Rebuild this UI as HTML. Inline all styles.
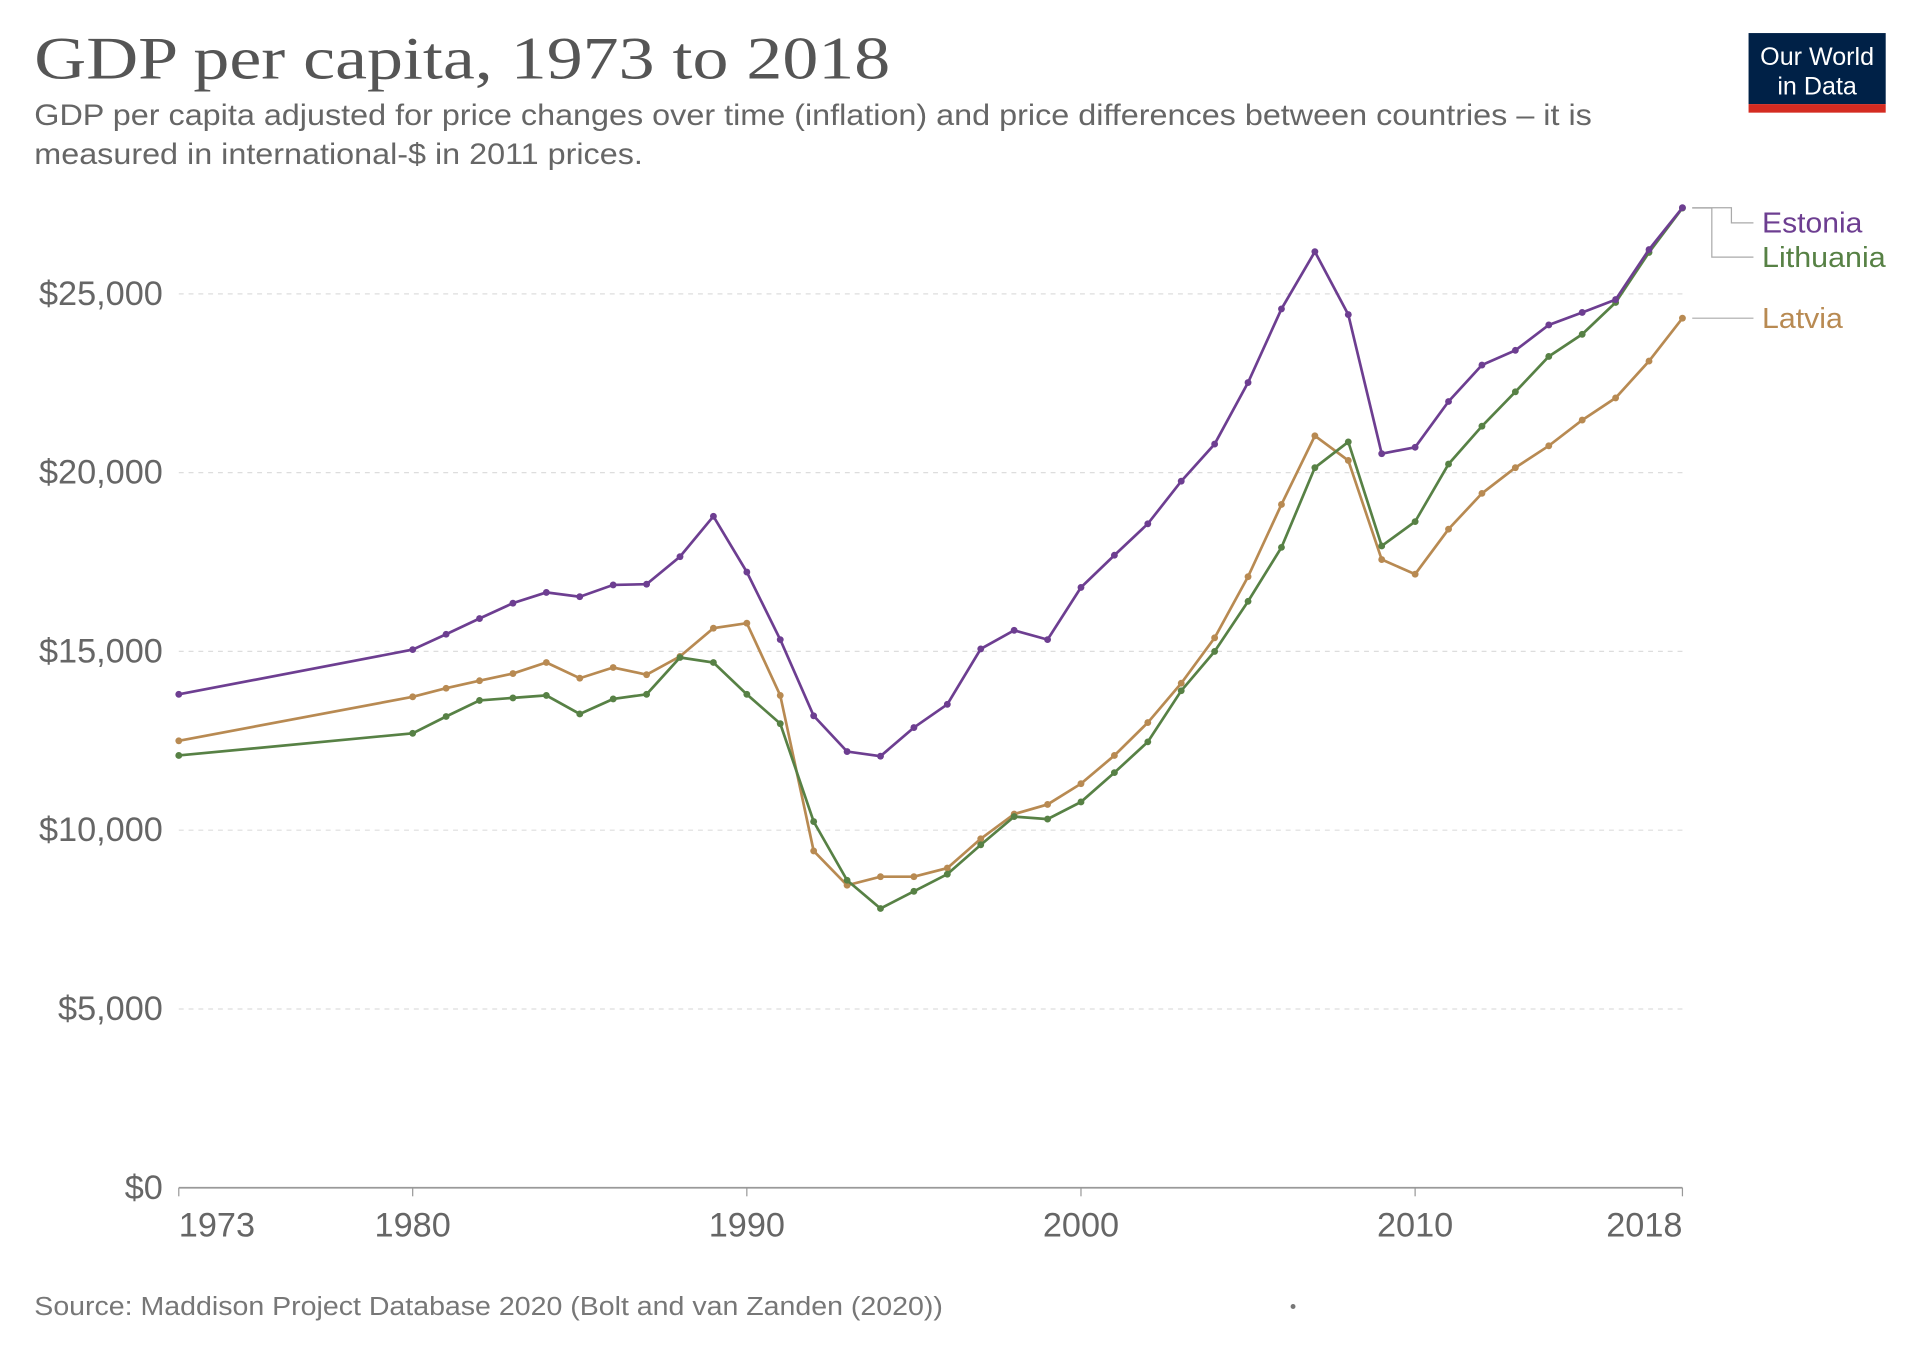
<!DOCTYPE html>
<html><head><meta charset="utf-8"><style>
html,body{margin:0;padding:0;background:#fff;}
svg{display:block;}
text{font-family:"Liberation Sans",sans-serif;}
</style></head><body>
<svg id="chart" width="1920" height="1355" viewBox="0 0 1568 1106.6" xmlns="http://www.w3.org/2000/svg">
<text x="28" y="64" style="font-family:'Liberation Serif',serif" font-size="49" fill="#555" textLength="699" lengthAdjust="spacingAndGlyphs">GDP per capita, 1973 to 2018</text>
<text x="28" y="102" font-size="24" fill="#666" textLength="1272" lengthAdjust="spacingAndGlyphs">GDP per capita adjusted for price changes over time (inflation) and price differences between countries – it is</text>
<text x="28" y="134" font-size="24" fill="#666" textLength="497" lengthAdjust="spacingAndGlyphs">measured in international-$ in 2011 prices.</text>
<g>
<rect x="1428" y="27" width="112" height="58" fill="#002147"/>
<rect x="1428" y="85" width="112" height="7" fill="#d42b21"/>
<text x="1484" y="53" font-size="20.5" fill="#fff" text-anchor="middle">Our World</text>
<text x="1484" y="77" font-size="20.5" fill="#fff" text-anchor="middle">in Data</text>
</g>
<g id="grid"></g><g id="axes"></g><g id="series"></g><g id="legend"></g>
<text x="28" y="1074" font-size="21" fill="#777" textLength="742" lengthAdjust="spacingAndGlyphs">Source: Maddison Project Database 2020 (Bolt and van Zanden (2020))</text>
<circle cx="1056" cy="1067" r="2" fill="#777"/>
</svg>
<script>
const years=[1973,1980,1981,1982,1983,1984,1985,1986,1987,1988,1989,1990,1991,1992,1993,1994,1995,1996,1997,1998,1999,2000,2001,2002,2003,2004,2005,2006,2007,2008,2009,2010,2011,2012,2013,2014,2015,2016,2017,2018];
const estonia=[13800,15050,15480,15920,16350,16650,16530,16860,16880,17650,18780,17220,15330,13200,12200,12070,12870,13520,15070,15590,15330,16790,17690,18570,19760,20800,22520,24580,26180,24420,20530,20710,21990,23010,23420,24130,24480,24840,26240,27410];
const lithuania=[12090,12710,13180,13630,13700,13770,13250,13670,13800,14830,14690,13800,12980,10240,8600,7810,8290,8770,9590,10380,10310,10790,11610,12470,13900,15000,16400,17910,20140,20860,17950,18630,20240,21300,22260,23250,23870,24760,26160,27400];
const latvia=[12500,13730,13970,14180,14380,14690,14250,14550,14350,14860,15650,15790,13770,9420,8460,8700,8700,8940,9760,10450,10720,11300,12090,13010,14110,15380,17090,19110,21030,20340,17570,17160,18420,19420,20140,20750,21470,22090,23120,24320];
const yTicks=[0,5000,10000,15000,20000,25000];
const yTickLabels=["$0","$5,000","$10,000","$15,000","$20,000","$25,000"];
const xTicks=[1973,1980,1990,2000,2010,2018];
const xTickLabels=["1973","1980","1990","2000","2010","2018"];
const seriesNames=["Estonia","Lithuania","Latvia"];

const NS="http://www.w3.org/2000/svg";
const X=y=>146+(y-1973)*(1374-146)/45;
const Y=v=>970-v*(730/25000);
function mk(tag,attrs,parent){const e=document.createElementNS(NS,tag);for(const k in attrs)e.setAttribute(k,attrs[k]);parent.appendChild(e);return e;}
const grid=document.getElementById('grid'),axes=document.getElementById('axes'),ser=document.getElementById('series'),leg=document.getElementById('legend');
yTicks.forEach((t,i)=>{
  if(t>0){const l=mk('line',{x1:146,x2:1374,y1:Y(t),y2:Y(t),stroke:'#ddd','stroke-dasharray':'4,4'},grid);
  
  }
  const tx=mk('text',{x:133,y:Y(t)+9,'font-size':28,fill:'#666','text-anchor':'end'},axes);tx.textContent=yTickLabels[i];
  
  
});
const ax=mk('line',{x1:146,x2:1374,y1:970,y2:970,stroke:'#999','stroke-width':1.5},axes);


xTicks.forEach((t,i)=>{
  mk('line',{x1:X(t),x2:X(t),y1:970,y2:977,stroke:'#999'},axes);
  const anchor=i===0?'start':(i===xTicks.length-1?'end':'middle');
  const tx=mk('text',{x:X(t),y:1010,'font-size':28,fill:'#666','text-anchor':anchor},axes);tx.textContent=xTickLabels[i];
  
  
});
const colors=["#6d3e91","#578145","#b88a52"];
const datas=[estonia,lithuania,latvia];
[2,1,0].forEach(si=>{
  const d=datas[si];
  const g=mk('g',{},ser);
  
  
  mk('polyline',{points:years.map((y,i)=>X(y)+','+Y(d[i])).join(' '),fill:'none',stroke:colors[si],'stroke-width':2.2},g);
  years.forEach((y,i)=>{const c=mk('circle',{cx:X(y),cy:Y(d[i]),r:2.8,fill:colors[si]},g);
    
    });
});
const last=years.length-1;
const ye=Y(estonia[last]),yl=Y(lithuania[last]),yv=Y(latvia[last]);
mk('polyline',{points:`1382,${ye} 1414,${ye} 1414,182 1432,182`,fill:'none',stroke:'#aaa'},leg);
mk('polyline',{points:`1382,${yl} 1398,${yl} 1398,210 1432,210`,fill:'none',stroke:'#aaa'},leg);
mk('line',{x1:1382,x2:1432,y1:yv,y2:yv,stroke:'#aaa'},leg);
[["Estonia",190,0,82],["Lithuania",218,1,101],["Latvia",268,2,66]].forEach(([n,y,i,w])=>{
  const t=mk('text',{x:1439,y:y,'font-size':23.5,fill:colors[i],textLength:w,lengthAdjust:'spacingAndGlyphs'},leg);t.textContent=n;
  
  
});
</script>
</body></html>
